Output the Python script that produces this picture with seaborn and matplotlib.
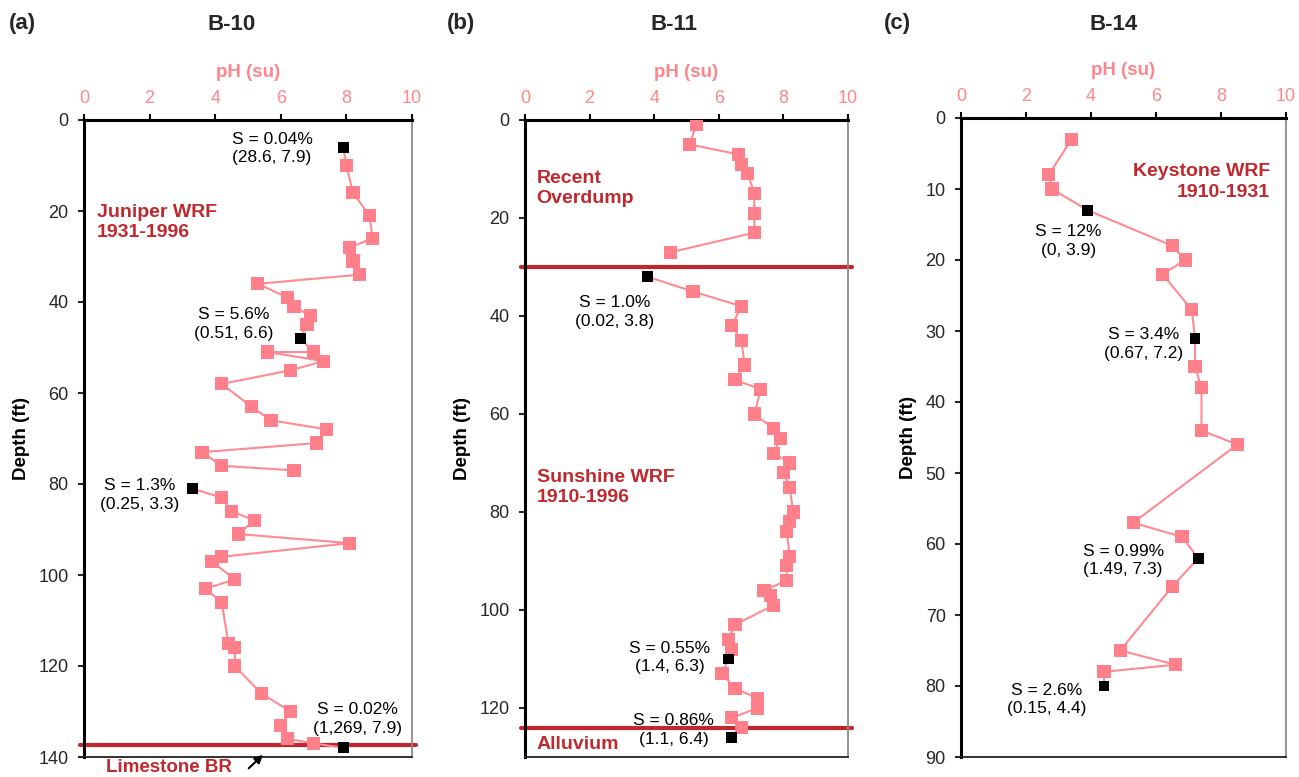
import matplotlib
matplotlib.use("Agg")
import matplotlib.pyplot as plt
import seaborn as sns
import pandas as pd
import numpy as np

# ---------------- data ----------------
# Panel (a) B-10
depth_a = [10, 16, 21, 26, 28, 31, 34, 36, 39, 41, 43, 45, 51, 51, 53, 55, 58, 63, 66, 68, 71, 73, 76, 77,
           83, 86, 88, 91, 93, 96, 97, 101, 103, 106, 115, 116, 120, 126, 130, 133, 136, 137]
ph_a = [8.0, 8.2, 8.7, 8.8, 8.1, 8.2, 8.4, 5.3, 6.2, 6.4, 6.9, 6.8, 7.0, 5.6, 7.3, 6.3, 4.2, 5.1, 5.7, 7.4, 7.1, 3.6, 4.2, 6.4,
        4.2, 4.5, 5.2, 4.7, 8.1, 4.2, 3.9, 4.6, 3.7, 4.2, 4.4, 4.6, 4.6, 5.4, 6.3, 6.0, 6.2, 7.0]
s_depth_a = [6, 48, 81, 138]
s_ph_a = [7.9, 6.6, 3.3, 7.9]
s_label_a = ["S = 0.04%\n(28.6, 7.9)", "S = 5.6%\n(0.51, 6.6)", "S = 1.3%\n(0.25, 3.3)", "S = 0.02%\n(1,269, 7.9)"]
breaks_a = [79]
layer_a = [137.3]

# Panel (b) B-11
depth_b = [1, 5, 7, 9, 11, 15, 19, 23, 27, 35, 38, 42, 45, 50, 53, 55, 60, 63, 65, 68, 70, 72, 75, 80, 82, 84,
           89, 91, 94, 96, 97, 99, 103, 106, 108, 113, 116, 118, 120, 122, 124]
ph_b = [5.3, 5.1, 6.6, 6.7, 6.9, 7.1, 7.1, 7.1, 4.5, 5.2, 6.7, 6.4, 6.7, 6.8, 6.5, 7.3, 7.1, 7.7, 7.9, 7.7, 8.2, 8.0, 8.2, 8.3, 8.2, 8.1,
        8.2, 8.1, 8.1, 7.4, 7.6, 7.7, 6.5, 6.3, 6.4, 6.1, 6.5, 7.2, 7.2, 6.4, 6.7]
s_depth_b = [32, 110, 126]
s_ph_b = [3.8, 6.3, 6.4]
s_label_b = ["S = 1.0%\n(0.02, 3.8)", "S = 0.55%\n(1.4, 6.3)", "S = 0.86%\n(1.1, 6.4)"]
breaks_b = [30]
layer_b = [30, 124]

# Panel (c) B-14
depth_c = [3, 8, 10, 18, 20, 22, 27, 35, 38, 44, 46, 57, 59, 66, 75, 77, 78]
ph_c = [3.4, 2.7, 2.8, 6.5, 6.9, 6.2, 7.1, 7.2, 7.4, 7.4, 8.5, 5.3, 6.8, 6.5, 4.9, 6.6, 4.4]
s_depth_c = [13, 31, 62, 80]
s_ph_c = [3.9, 7.2, 7.3, 4.4]
s_label_c = ["S = 12%\n(0, 3.9)", "S = 3.4%\n(0.67, 7.2)", "S = 0.99%\n(1.49, 7.3)", "S = 2.6%\n(0.15, 4.4)"]
breaks_c = []
layer_c = []

titles = ["B-10", "B-11", "B-14"]
letters = ["(a)", "(b)", "(c)"]

# ---------------- style ----------------
sns.set_theme(style="ticks")
plt.rcParams["font.family"] = ["Liberation Sans", "DejaVu Sans"]

PINK = "#FF7F8A"
LINE = "#FF8A93"
DRED = "#C0282D"
TICKPINK = "#FF858D"

W, H = 1299, 777
fig = plt.figure(figsize=(W / 100, H / 100), dpi=100)


def px_axes(l, r, t, b):
    return fig.add_axes([l / W, 1 - b / H, (r - l) / W, (b - t) / H])


axes = [px_axes(84, 412, 120, 757), px_axes(525, 848, 120, 757), px_axes(961, 1286, 118, 757)]

panels = [
    (depth_a, ph_a, s_depth_a, s_ph_a, breaks_a, layer_a, 140, 20),
    (depth_b, ph_b, s_depth_b, s_ph_b, breaks_b, layer_b, 130, 20),
    (depth_c, ph_c, s_depth_c, s_ph_c, breaks_c, layer_c, 90, 10),
]

label_pos = [
    [(5.73, 6.3), (4.57, 44.9), (1.71, 82.4), (8.33, 131.6)],
    [(2.78, 39.2), (4.48, 109.7), (4.6, 124.5)],
    [(3.31, 17.3), (5.61, 31.8), (4.99, 62.3), (2.64, 81.9)],
]
s_labels = [s_label_a, s_label_b, s_label_c]

for i, (ax, (d, p, sd, sp, brk, lay, ymax, ystep)) in enumerate(zip(axes, panels)):
    pink = pd.DataFrame({"depth": d, "ph": p, "kind": 0})
    blk = pd.DataFrame({"depth": sd, "ph": sp, "kind": 1})
    allp = pd.concat([pink, blk], ignore_index=True).sort_values("depth", kind="stable")
    allp["seg"] = [int(np.sum(np.array(brk) < v)) for v in allp["depth"]]

    for y in lay:
        ax.axhline(y, xmin=-0.012, xmax=1.012, color=DRED, lw=3, zorder=2, clip_on=False)

    sns.lineplot(data=allp, x="ph", y="depth", units="seg", estimator=None, sort=False,
                 color=LINE, lw=1.5, ax=ax, legend=False, zorder=2.5)
    sns.scatterplot(data=pink, x="ph", y="depth", marker="s", s=90, color=PINK,
                    edgecolor="none", ax=ax, legend=False, zorder=3)
    sns.scatterplot(data=blk, x="ph", y="depth", marker="s", s=62, color="black",
                    edgecolor="none", ax=ax, legend=False, zorder=4)

    ax.set_xlim(0, 10)
    ax.set_ylim(ymax, 0)
    ax.set_xticks(range(0, 11, 2))
    ax.set_yticks(range(0, ymax + 1, ystep) if ymax != 130 else range(0, 121, 20))
    ax.xaxis.tick_top()
    ax.xaxis.set_label_position("top")
    ax.tick_params(axis="x", colors="black", labelcolor=TICKPINK, labelsize=13, length=4.5, width=1.5, pad=5)
    ax.tick_params(axis="y", labelsize=13, length=4, width=1.5, pad=7)
    ax.set_xlabel("pH (su)", color=TICKPINK, fontsize=13.5, fontweight="bold", labelpad=9)
    ax.set_ylabel("Depth (ft)", color="black", fontsize=13.5, fontweight="bold", labelpad=6)
    ax.grid(False)
    for side in ["left", "top"]:
        ax.spines[side].set_linewidth(2.2)
        ax.spines[side].set_color("black")
    ax.spines["bottom"].set_linewidth(1.3)
    ax.spines["bottom"].set_color("#222222")
    ax.spines["right"].set_linewidth(1.3)
    ax.spines["right"].set_color("#8a8a8a")

    for lab, (x, y) in zip(s_labels[i], label_pos[i]):
        ax.text(x, y, lab, ha="center", va="center", fontsize=12.5, linespacing=1.3, color="black", zorder=5)

# zone labels
zkw = dict(color=DRED, fontsize=14, fontweight="bold", linespacing=1.25)
axes[0].text(0.39, 22.5, "Juniper WRF\n1931-1996", ha="left", va="center", **zkw)
axes[0].text(0.67, 142.4, "Limestone BR", ha="left", va="center", clip_on=False,
             color=DRED, fontsize=13.5, fontweight="bold")
axes[0].annotate("", xy=(5.52, 139.1), xytext=(4.96, 142.9), annotation_clip=False,
                 arrowprops=dict(arrowstyle="-|>", color="black", lw=1.5, mutation_scale=12))
axes[1].text(0.36, 14.0, "Recent\nOverdump", ha="left", va="center", **zkw)
axes[1].text(0.36, 75.0, "Sunshine WRF\n1910-1996", ha="left", va="center", **zkw)
axes[1].text(0.36, 127.4, "Alluvium", ha="left", va="center", **zkw)
axes[2].text(9.51, 9.0, "Keystone WRF\n1910-1931", ha="right", va="center", **zkw)

# titles
for lx, tx, let, tt in zip([9, 447, 884], [232, 674, 1114], letters, titles):
    fig.text(lx / W, 1 - 24 / H, let, ha="left", va="center", fontsize=16, fontweight="bold")
    fig.text(tx / W, 1 - 24 / H, tt, ha="center", va="center", fontsize=16, fontweight="bold")

fig.savefig("out.png", dpi=100)
